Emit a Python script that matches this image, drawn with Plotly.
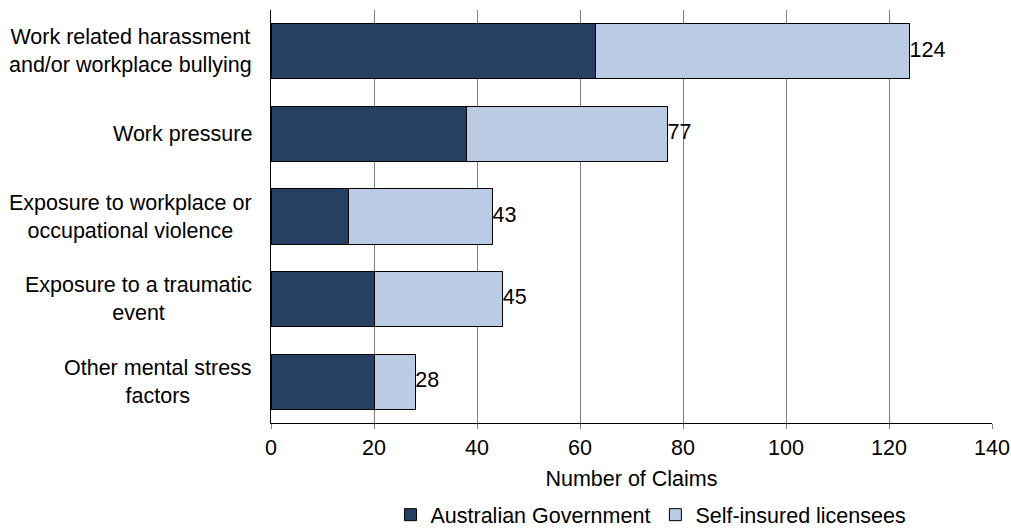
import plotly.graph_objects as go

# Claim categories, listed top to bottom
categories = [
    "Work related harassment<br>and/or workplace bullying",
    "Work pressure",
    "Exposure to workplace or<br>occupational violence",
    "Exposure to a traumatic<br>event",
    "Other mental stress<br>factors",
]
australian_government = [63, 38, 15, 20, 20]
self_insured = [61, 39, 28, 25, 8]
totals = [124, 77, 43, 45, 28]

x_ticks = [0, 20, 40, 60, 80, 100, 120, 140]

FONT = "Liberation Sans, Arial, sans-serif"
DARK = "#264064"
LIGHT = "#b9cce4"
SIZE = 21.5

fig = go.Figure()
fig.add_trace(go.Bar(
    y=categories, x=australian_government, orientation="h",
    name="Australian Government",
    marker=dict(color=DARK, line=dict(color="#000000", width=1)),
))
fig.add_trace(go.Bar(
    y=categories, x=self_insured, orientation="h",
    name="Self-insured licensees",
    marker=dict(color=LIGHT, line=dict(color="#000000", width=1)),
))
# Total claim counts at the end of each stacked bar
fig.add_trace(go.Scatter(
    y=categories, x=totals, mode="text",
    text=[str(t) for t in totals], textposition="middle right",
    textfont=dict(size=SIZE, color="#000000", family=FONT),
    showlegend=False, hoverinfo="skip", cliponaxis=False,
))

# Category labels: right-aligned block, lines centred within it
for cat in categories:
    fig.add_annotation(
        x=0, xref="paper", xanchor="right", xshift=-17,
        y=cat, yref="y", yanchor="middle",
        text=cat, align="center", showarrow=False,
        font=dict(size=SIZE, color="#000000", family=FONT),
    )

fig.update_layout(
    width=1011, height=530,
    margin=dict(l=271, r=19, t=10, b=107, autoexpand=False),
    barmode="stack", bargap=0.33,
    plot_bgcolor="#ffffff", paper_bgcolor="#ffffff",
    font=dict(family=FONT, size=SIZE, color="#000000"),
    legend=dict(
        orientation="h", x=0.527, xanchor="center", y=-0.222, yanchor="middle",
        font=dict(size=SIZE, color="#000000"), itemwidth=30,
        traceorder="normal",
    ),
    xaxis=dict(
        range=[0, 140], tickvals=x_ticks, ticktext=[str(v) for v in x_ticks],
        showgrid=True, gridcolor="#808080", gridwidth=1,
        showline=True, linecolor="#000000", linewidth=1,
        ticks="outside", ticklen=5, tickcolor="#808080",
        tickfont=dict(size=SIZE), zeroline=False, automargin=False,
        title=dict(text="Number of Claims", font=dict(size=SIZE), standoff=12),
    ),
    yaxis=dict(
        type="category", autorange="reversed", showticklabels=False,
        showline=True, linecolor="#000000", linewidth=1,
        showgrid=False, ticks="", zeroline=False, automargin=False,
    ),
)

fig.write_html("out.html")
